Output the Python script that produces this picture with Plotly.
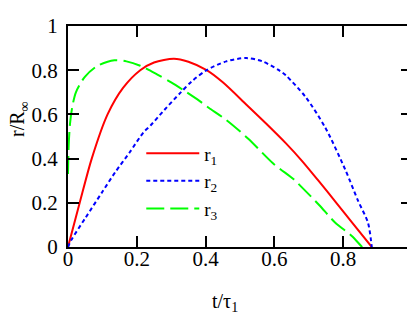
import plotly.graph_objects as go

# r1 (red, solid)
t_r1 = [0, 0.034, 0.069, 0.115, 0.16, 0.21, 0.25, 0.308, 0.35, 0.403, 0.45,
        0.518, 0.575, 0.633, 0.68, 0.728, 0.78, 0.826, 0.883]
r1 = [0, 0.2, 0.4, 0.6, 0.72, 0.80, 0.835, 0.852, 0.838, 0.80, 0.745,
      0.645, 0.56, 0.47, 0.39, 0.30, 0.20, 0.11, 0.0]

# r2 (blue, dotted)
t_r2 = [0, 0.009, 0.05, 0.1, 0.138, 0.18, 0.22, 0.24, 0.28, 0.325, 0.36, 0.403,
        0.46, 0.518, 0.565, 0.613, 0.633, 0.69, 0.748, 0.806, 0.843, 0.872, 0.883]
r2 = [0, 0.03, 0.13, 0.25, 0.34, 0.43, 0.52, 0.55, 0.62, 0.695, 0.75, 0.80,
      0.84, 0.855, 0.84, 0.80, 0.777, 0.68, 0.54, 0.35, 0.21, 0.11, 0.0]

# r3 (green, dashed)
t_r3 = [0, 0.002, 0.006, 0.012, 0.023, 0.049, 0.086, 0.135, 0.17, 0.21, 0.26,
        0.30, 0.345, 0.383, 0.409, 0.46, 0.524, 0.595, 0.657, 0.68, 0.73, 0.777,
        0.825, 0.855, 0.878]
r3 = [0.33, 0.46, 0.56, 0.63, 0.70, 0.77, 0.82, 0.845, 0.84, 0.82, 0.78,
      0.745, 0.70, 0.66, 0.63, 0.575, 0.49, 0.38, 0.305, 0.27, 0.19, 0.11,
      0.05, 0.0, -0.034]

ticks = [0, 0.2, 0.4, 0.6, 0.8, 1]
tick_labels = ["0", "0.2", "0.4", "0.6", "0.8", "1"]

serif = "Liberation Serif, Times New Roman, serif"

fig = go.Figure()
fig.add_trace(go.Scatter(x=t_r1, y=r1, mode="lines", name="r<sub>1</sub>",
                         line=dict(color="#ff0000", width=2, shape="spline", smoothing=0.8)))
fig.add_trace(go.Scatter(x=t_r2, y=r2, mode="lines", name="r<sub>2</sub>",
                         line=dict(color="#0000ff", width=2, dash="4px,3px",
                                   shape="spline", smoothing=0.8)))
fig.add_trace(go.Scatter(x=t_r3, y=r3, mode="lines", name="r<sub>3</sub>",
                         line=dict(color="#00ff00", width=2, dash="18px,6px",
                                   shape="spline", smoothing=0.8)))

axis_style = dict(
    range=[0, 1], tickvals=ticks, ticktext=tick_labels,
    showgrid=False, zeroline=False,
    showline=True, linecolor="black", linewidth=2, mirror="allticks",
    ticks="inside", ticklen=11, tickwidth=2, tickcolor="black",
    ticklabeloverflow="allow",
    tickfont=dict(family=serif, size=21, color="black"),
)

fig.update_layout(
    width=415, height=321,
    margin=dict(l=60, r=7, t=6, b=82),
    paper_bgcolor="white", plot_bgcolor="white",
    font=dict(family=serif, color="black"),
    xaxis=dict(**axis_style, ticklabelstandoff=-8),
    yaxis=dict(**axis_style, ticklabelstandoff=4),
    showlegend=True,
    legend=dict(x=0.213, y=0.51, xanchor="left", yanchor="top",
                bgcolor="rgba(0,0,0,0)", font=dict(family=serif, size=19),
                itemwidth=53, tracegroupgap=0),
    annotations=[
        dict(text="r/R<sub>∞</sub>", xref="paper", yref="paper",
             x=-0.142, y=0.58, xanchor="center", yanchor="middle",
             textangle=-90, showarrow=False,
             font=dict(family=serif, size=20)),
        dict(text="t/τ<sub>1</sub>", xref="paper", yref="paper",
             x=0.457, y=-0.253, xanchor="center", yanchor="middle",
             showarrow=False, font=dict(family=serif, size=20)),
    ],
)

fig.write_html("out.html")
